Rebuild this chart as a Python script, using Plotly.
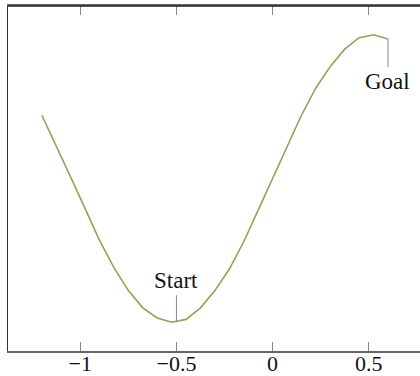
import plotly.graph_objects as go

# sampled positions and heights of the curve
x_vals = [-1.2, -1.125, -1.05, -0.975, -0.9, -0.825, -0.75, -0.675, -0.6, -0.525,
          -0.45, -0.375, -0.3, -0.225, -0.15, -0.075, 0.0, 0.075, 0.15, 0.225,
          0.3, 0.375, 0.45, 0.525, 0.6]
y_vals = [0.44, 0.23, 0.01, -0.21, -0.43, -0.62, -0.78, -0.90, -0.97, -1.0,
          -0.98, -0.90, -0.78, -0.63, -0.44, -0.22, 0.0, 0.22, 0.44, 0.63,
          0.78, 0.90, 0.98, 1.0, 0.97]

# marked points
labels = ['Start', 'Goal']
label_x = [-0.5, 0.6]
label_y = [-1.0, 0.97]

tick_vals = [-1, -0.5, 0, 0.5]
tick_text = ['\u22121', '\u22120.5', '0', '0.5']

serif = 'Liberation Serif'

fig = go.Figure()
fig.add_trace(go.Scatter(x=x_vals, y=y_vals, mode='lines',
                         line=dict(color='#8ba65a', width=1.6), hoverinfo='skip'))

# Start: pin going up, label above; Goal: pin going down, label below
fig.add_annotation(x=label_x[0], y=label_y[0], text=labels[0], showarrow=True,
                   arrowhead=0, arrowwidth=1, arrowcolor='#888888', ax=0, ay=-27,
                   standoff=0, yanchor='bottom',
                   font=dict(family=serif, size=23, color='#111111'))
fig.add_annotation(x=label_x[1], y=label_y[1], text=labels[1], showarrow=True,
                   arrowhead=0, arrowwidth=1, arrowcolor='#888888', ax=0, ay=28,
                   standoff=0, yanchor='top',
                   font=dict(family=serif, size=23, color='#111111'))

fig.update_layout(
    width=420, height=376,
    margin=dict(l=8, r=0, t=6, b=25),
    paper_bgcolor='white', plot_bgcolor='white',
    showlegend=False,
    xaxis=dict(range=[-1.376, 0.7665], tickvals=tick_vals, ticktext=tick_text,
               ticks='inside', ticklen=9, tickcolor='#888888', tickwidth=1,
               showline=True, linecolor='#666666', linewidth=1.5, mirror='ticks',
               showgrid=False, zeroline=False, automargin=False,
               ticklabelstandoff=-8,
               tickfont=dict(family=serif, size=22, color='#111111')),
    yaxis=dict(range=[-1.2, 1.2], showticklabels=False, ticks='',
               showline=True, linecolor='#333333', linewidth=1.3, mirror=False,
               showgrid=False, zeroline=False, automargin=False),
)
fig.add_shape(type='line', xref='paper', yref='paper', x0=0, x1=1, y0=1, y1=1,
              line=dict(color='#222222', width=1.3))

# drop the page's default body margin so the figure sits at the window's corner
fig.write_html('out.html', config={'displayModeBar': False},
               post_script="document.body.style.margin='0';")
